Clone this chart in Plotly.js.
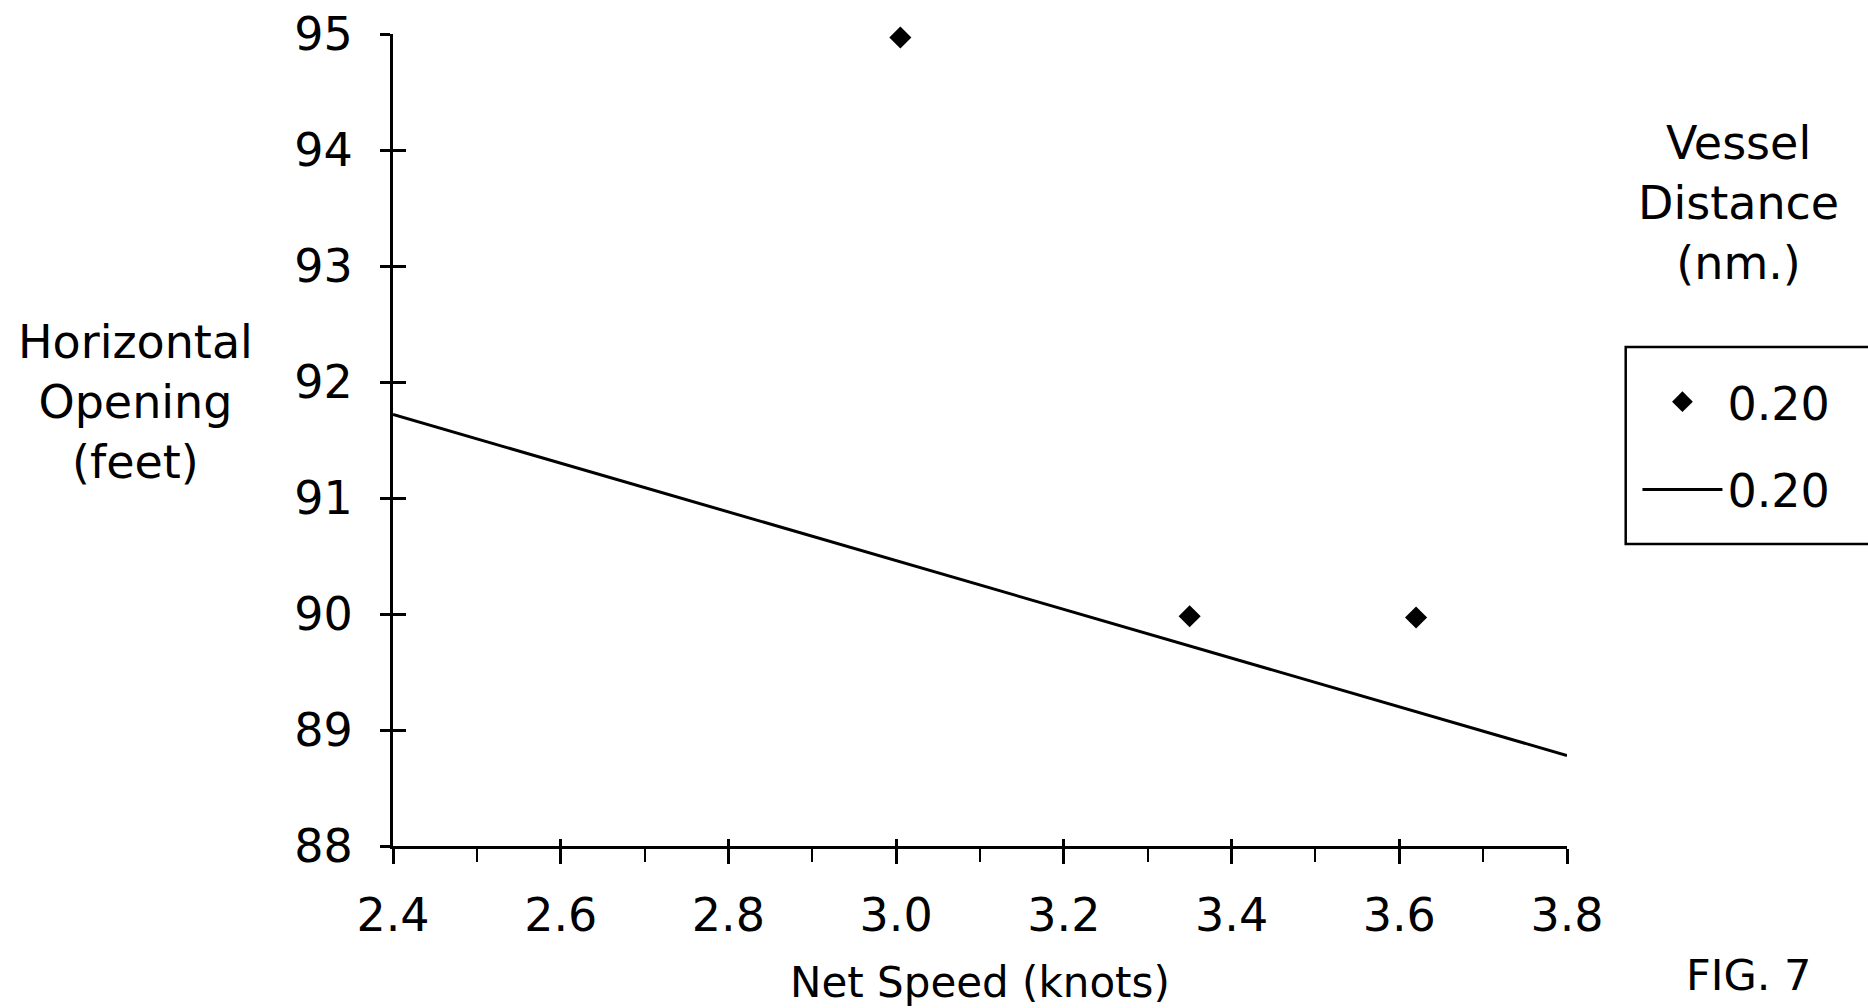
<!DOCTYPE html>
<html>
<head>
<meta charset="utf-8">
<script src="https://cdn.plot.ly/plotly-3.0.1.min.js"></script>
<style>html,body{margin:0;padding:0;background:#fff;}#chart{width:1868px;height:1008px;}</style>
</head>
<body>
<div id="chart"></div>
<script>
// Data
const pointSpeed = [3.005, 3.35, 3.62];
const pointOpening = [94.97, 89.98, 89.97];
const lineSpeed = [2.4, 3.8];
const lineOpening = [91.72, 88.78];
const seriesNames = ["0.20", "0.20"];
const xTickVals = [2.4, 2.6, 2.8, 3.0, 3.2, 3.4, 3.6, 3.8];
const xTickText = ["2.4", "2.6", "2.8", "3.0", "3.2", "3.4", "3.6", "3.8"];
const yTickVals = [88, 89, 90, 91, 92, 93, 94, 95];
const yTickText = ["88", "89", "90", "91", "92", "93", "94", "95"];

const FONT = "DejaVu Sans, Liberation Sans, sans-serif";

const traces = [
  {
    x: pointSpeed, y: pointOpening, type: "scatter", mode: "markers",
    name: seriesNames[0], legendgroup: "a", cliponaxis: false,
    marker: {symbol: "diamond", size: 17, color: "#000"},
    hoverinfo: "x+y"
  },
  {
    x: lineSpeed, y: lineOpening, type: "scatter", mode: "lines",
    name: seriesNames[1], legendgroup: "b",
    xaxis: "x2", yaxis: "y2",
    line: {color: "#000", width: 3},
    hoverinfo: "x+y"
  }
];

const layout = {
  width: 1868, height: 1008,
  margin: {l: 393, r: 301, t: 34, b: 162, autoexpand: false},
  paper_bgcolor: "#fff", plot_bgcolor: "#fff",
  font: {family: FONT, size: 46, color: "#000"},
  showlegend: true,
  xaxis: {
    range: [2.4, 3.8], tickvals: xTickVals, ticktext: xTickText,
    showgrid: false, zeroline: false, showline: true, linecolor: "#000", linewidth: 3,
    ticks: "outside", ticklen: 15, tickwidth: 2.5, tickcolor: "#000",
    minor: {dtick: 0.1, tick0: 2.4, ticks: "outside", ticklen: 13, tickwidth: 2, tickcolor: "#000", showgrid: false},
    ticklabelstandoff: 12,
    tickfont: {family: FONT, size: 46, color: "#000"},
    automargin: false, fixedrange: true
  },
  yaxis: {
    range: [88, 95], tickvals: yTickVals, ticktext: yTickText,
    showgrid: false, zeroline: false, showline: true, linecolor: "#000", linewidth: 3,
    ticks: "outside", ticklen: 10, tickwidth: 2.5, tickcolor: "#000",
    ticklabelstandoff: 18,
    tickfont: {family: FONT, size: 46, color: "#000"},
    automargin: false, fixedrange: true
  },
  xaxis2: {
    overlaying: "x", anchor: "y2", side: "bottom", range: [2.4, 3.8], tickvals: xTickVals,
    showticklabels: false, showgrid: false, zeroline: false, showline: false,
    ticks: "inside", ticklen: 7, tickwidth: 2.5, tickcolor: "#000", fixedrange: true
  },
  yaxis2: {
    overlaying: "y", anchor: "x2", side: "left", range: [88, 95], tickvals: yTickVals,
    showticklabels: false, showgrid: false, zeroline: false, showline: false,
    ticks: "inside", ticklen: 13, tickwidth: 2.5, tickcolor: "#000", fixedrange: true
  },
  legend: {
    x: 1.06, y: 0.592, xanchor: "left", yanchor: "top",
    borderwidth: 0, bgcolor: "rgba(0,0,0,0)",
    font: {family: FONT, size: 46, color: "#000"},
    traceorder: "grouped", tracegroupgap: 25, itemwidth: 80
  },
  shapes: [
    {
      type: "rect", xref: "paper", yref: "paper",
      x0: 1.050, x1: 1.40, y0: 0.372, y1: 0.6145,
      line: {color: "#000", width: 2.5}, fillcolor: "rgba(0,0,0,0)", layer: "below"
    }
  ],
  annotations: [
    {
      text: "Horizontal<br>Opening<br>(feet)", xref: "paper", yref: "paper",
      x: -0.219, y: 0.547, xanchor: "center", yanchor: "middle", showarrow: false,
      font: {family: FONT, size: 46, color: "#000"}, align: "center"
    },
    {
      text: "Net Speed (knots)", xref: "paper", yref: "paper",
      x: 0.5, y: -0.168, xanchor: "center", yanchor: "middle", showarrow: false,
      font: {family: FONT, size: 42, color: "#000"}
    },
    {
      text: "Vessel<br>Distance<br>(nm.)", xref: "paper", yref: "paper",
      x: 1.1465, y: 0.792, xanchor: "center", yanchor: "middle", showarrow: false,
      font: {family: FONT, size: 46, color: "#000"}, align: "center"
    },
    {
      text: "FIG. 7", xref: "paper", yref: "paper",
      x: 1.155, y: -0.159, xanchor: "center", yanchor: "middle", showarrow: false,
      font: {family: FONT, size: 43, color: "#000"}
    }
  ]
};

Plotly.newPlot("chart", traces, layout, {displayModeBar: false});
</script>
</body>
</html>
